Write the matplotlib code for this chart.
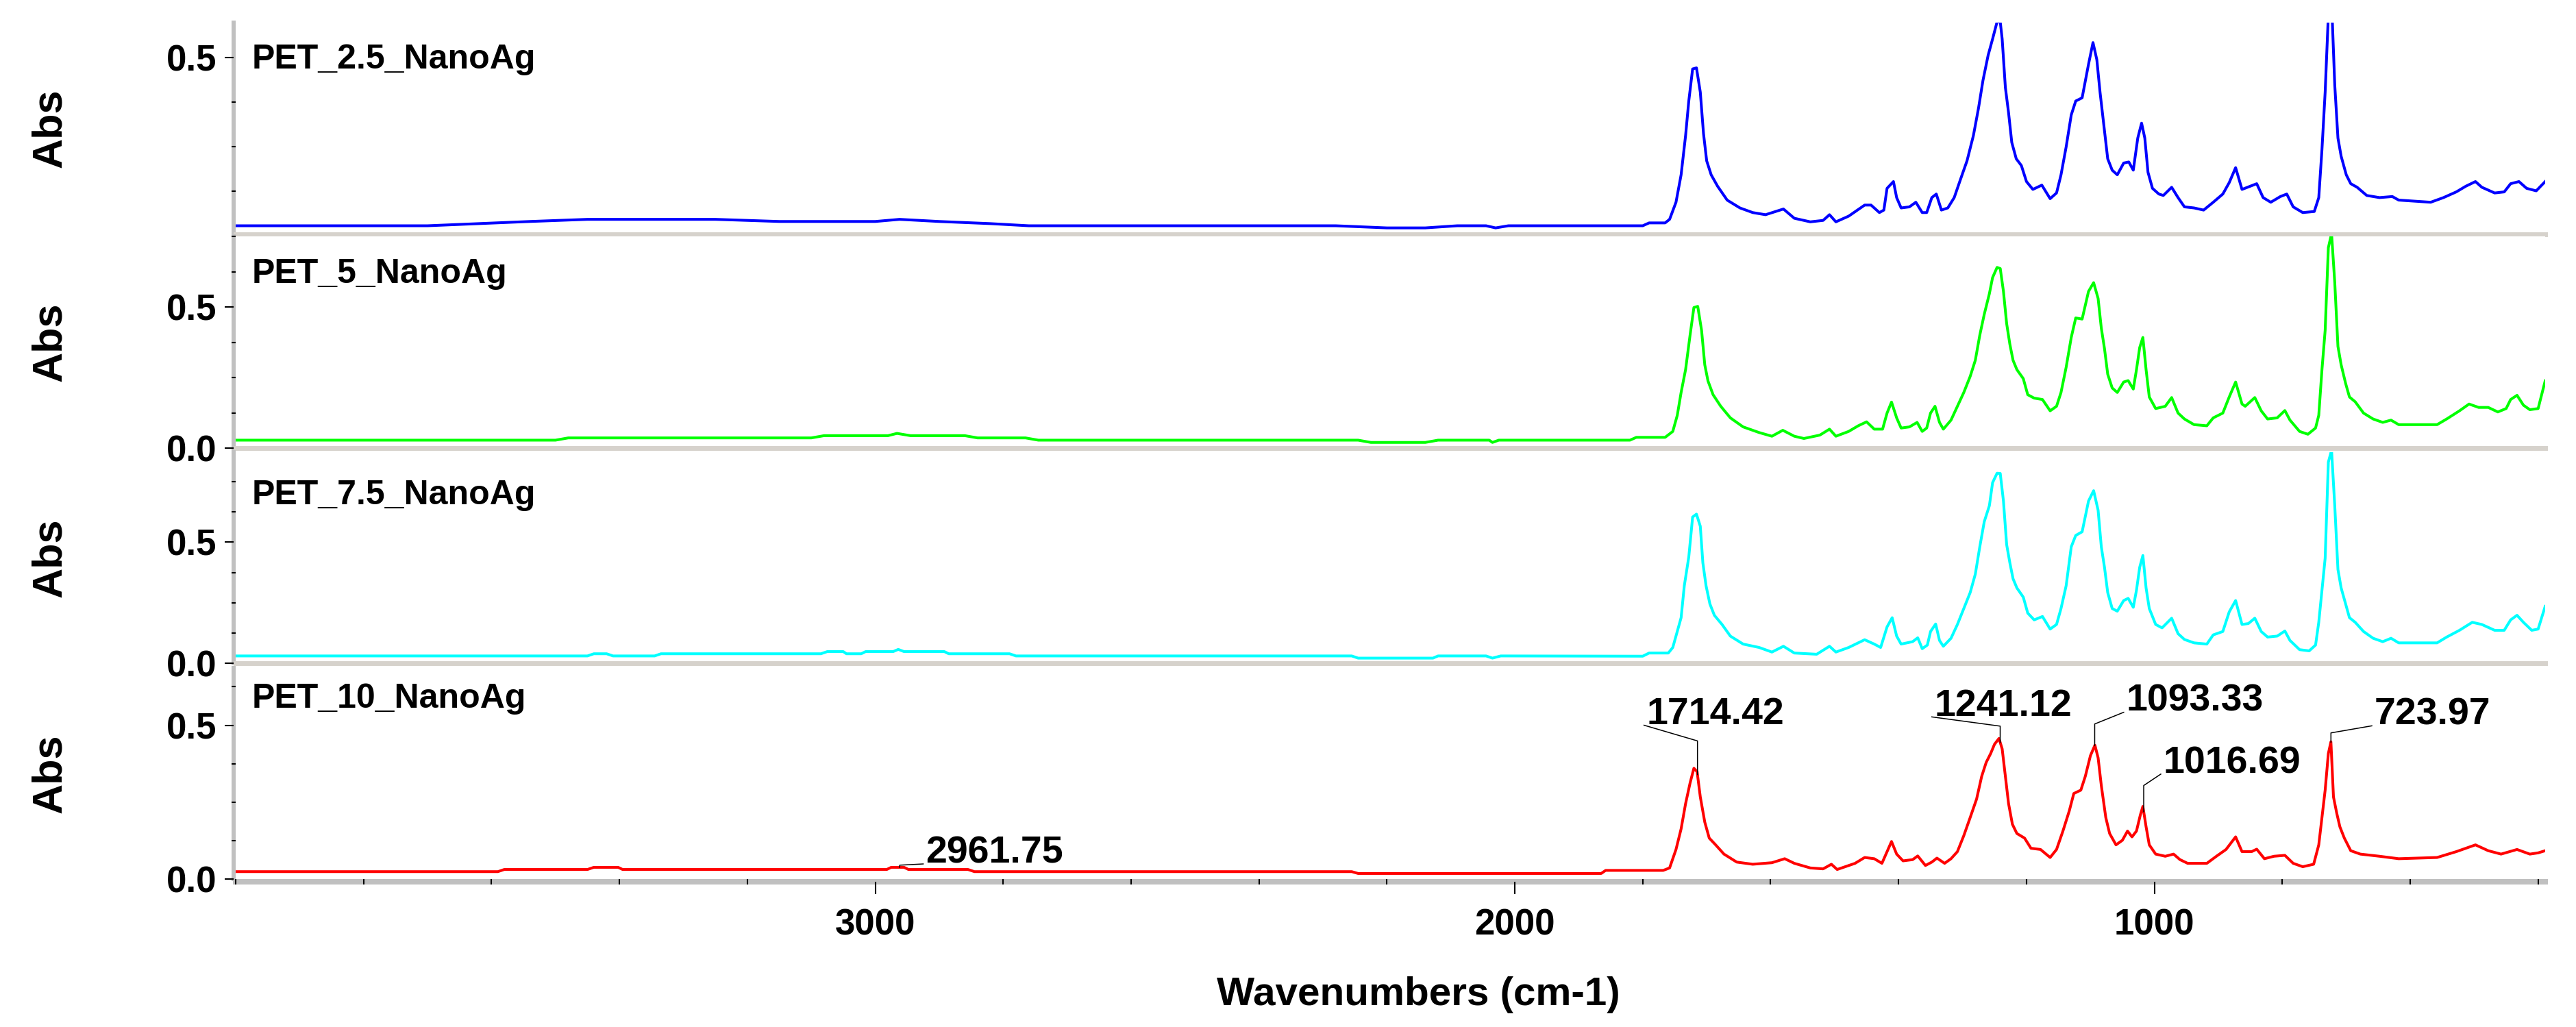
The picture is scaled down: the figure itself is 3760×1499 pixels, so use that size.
import numpy as np
import matplotlib.pyplot as plt
from matplotlib.ticker import MultipleLocator, FixedLocator, FormatStrFormatter

plt.rcParams['font.family'] = ['Liberation Sans', 'DejaVu Sans']
plt.rcParams['font.weight'] = 'bold'

# FTIR spectra: (wavenumber cm-1, absorbance)
pet_25 = [(4000, 0.028), (3700, 0.028), (3620, 0.034), (3540, 0.040), (3450, 0.046), (3250, 0.046),
          (3150, 0.040), (3000, 0.040), (2962, 0.046), (2900, 0.040), (2820, 0.034), (2760, 0.028),
          (2280, 0.028), (2200, 0.022), (2140, 0.022), (2090, 0.028), (2045, 0.028), (2030, 0.022),
          (2010, 0.028), (1800, 0.028), (1790, 0.036), (1765, 0.036), (1758, 0.046),
          (1748, 0.094), (1740, 0.171), (1733, 0.281), (1728, 0.378), (1722, 0.468), (1716, 0.471),
          (1710, 0.403), (1705, 0.287), (1700, 0.21), (1693, 0.171), (1683, 0.139), (1668, 0.10),
          (1648, 0.078), (1628, 0.065), (1608, 0.059), (1580, 0.075), (1563, 0.049), (1538, 0.039),
          (1518, 0.043), (1508, 0.059), (1498, 0.039), (1478, 0.055), (1453, 0.086), (1443, 0.086),
          (1430, 0.065), (1423, 0.072), (1418, 0.133), (1408, 0.152), (1403, 0.107), (1396, 0.078),
          (1383, 0.081), (1373, 0.094), (1363, 0.065), (1356, 0.065), (1348, 0.107), (1341, 0.117),
          (1333, 0.072), (1323, 0.078), (1313, 0.107), (1303, 0.159), (1293, 0.21), (1283, 0.281),
          (1275, 0.358), (1268, 0.436), (1260, 0.506), (1253, 0.552), (1246, 0.60), (1241, 0.60),
          (1238, 0.552), (1233, 0.416), (1228, 0.345), (1223, 0.262), (1216, 0.216), (1208, 0.197),
          (1200, 0.152), (1190, 0.13), (1176, 0.142), (1163, 0.104), (1153, 0.12), (1146, 0.171),
          (1138, 0.249), (1130, 0.339), (1123, 0.378), (1113, 0.387), (1103, 0.481), (1096, 0.542),
          (1090, 0.494), (1085, 0.403), (1078, 0.294), (1073, 0.216), (1066, 0.184), (1058, 0.171),
          (1048, 0.204), (1040, 0.207), (1033, 0.184), (1026, 0.274), (1020, 0.316), (1015, 0.274),
          (1010, 0.178), (1003, 0.133), (993, 0.117), (986, 0.113), (973, 0.136), (963, 0.107),
          (953, 0.081), (938, 0.078), (923, 0.072), (908, 0.094), (893, 0.117), (883, 0.149),
          (873, 0.191), (863, 0.13), (850, 0.139), (840, 0.146), (830, 0.107), (818, 0.094),
          (803, 0.11), (793, 0.117), (783, 0.081), (768, 0.065), (750, 0.068), (743, 0.107),
          (738, 0.242), (733, 0.403), (728, 0.62), (723, 0.66), (718, 0.423), (713, 0.274),
          (708, 0.223), (700, 0.171), (693, 0.146), (683, 0.136), (668, 0.113), (648, 0.107),
          (628, 0.11), (618, 0.10), (593, 0.097), (568, 0.094), (548, 0.107), (528, 0.123),
          (513, 0.139), (498, 0.152), (488, 0.136), (468, 0.12), (453, 0.123), (443, 0.146),
          (430, 0.152), (418, 0.133), (403, 0.126), (389, 0.152)]

pet_5 = [(4000, 0.028), (3500, 0.028), (3480, 0.036), (3100, 0.036), (3080, 0.044), (2980, 0.044),
         (2966, 0.052), (2945, 0.044), (2860, 0.044), (2840, 0.036), (2765, 0.036), (2745, 0.028),
         (2245, 0.028), (2225, 0.020), (2140, 0.020), (2120, 0.028), (2040, 0.028), (2035, 0.020),
         (2025, 0.028), (1820, 0.028), (1810, 0.038), (1765, 0.038), (1753, 0.059),
         (1746, 0.116), (1740, 0.197), (1733, 0.278), (1726, 0.40), (1720, 0.498), (1714, 0.502),
         (1708, 0.417), (1703, 0.295), (1698, 0.238), (1690, 0.189), (1678, 0.148), (1663, 0.107),
         (1643, 0.075), (1618, 0.055), (1598, 0.042), (1581, 0.063), (1563, 0.042), (1548, 0.034),
         (1523, 0.046), (1508, 0.067), (1498, 0.042), (1478, 0.059), (1463, 0.079), (1450, 0.093),
         (1438, 0.067), (1425, 0.067), (1418, 0.124), (1411, 0.163), (1403, 0.107), (1396, 0.071),
         (1383, 0.075), (1371, 0.091), (1363, 0.059), (1356, 0.071), (1350, 0.124), (1343, 0.148),
         (1336, 0.091), (1330, 0.067), (1318, 0.099), (1308, 0.148), (1298, 0.197), (1288, 0.254),
         (1280, 0.311), (1273, 0.40), (1266, 0.474), (1258, 0.547), (1253, 0.604), (1246, 0.64),
         (1241, 0.636), (1236, 0.555), (1231, 0.441), (1226, 0.368), (1221, 0.311), (1215, 0.278),
         (1205, 0.246), (1198, 0.189), (1188, 0.177), (1175, 0.172), (1163, 0.132), (1153, 0.148),
         (1146, 0.197), (1138, 0.286), (1130, 0.392), (1123, 0.461), (1113, 0.457), (1103, 0.555),
         (1095, 0.586), (1088, 0.53), (1083, 0.425), (1078, 0.352), (1073, 0.262), (1066, 0.213),
         (1058, 0.197), (1048, 0.234), (1041, 0.239), (1033, 0.209), (1028, 0.278), (1023, 0.356),
         (1018, 0.392), (1013, 0.278), (1008, 0.181), (998, 0.14), (983, 0.148), (973, 0.179),
         (963, 0.124), (953, 0.103), (938, 0.083), (918, 0.079), (908, 0.107), (893, 0.124),
         (883, 0.181), (873, 0.234), (863, 0.156), (858, 0.148), (843, 0.179), (833, 0.132),
         (823, 0.103), (808, 0.107), (796, 0.133), (788, 0.099), (773, 0.059), (760, 0.049),
         (748, 0.071), (743, 0.116), (738, 0.278), (733, 0.417), (728, 0.71), (723, 0.76),
         (718, 0.587), (713, 0.36), (708, 0.295), (701, 0.229), (695, 0.181), (686, 0.164),
         (673, 0.124), (658, 0.103), (643, 0.091), (630, 0.099), (618, 0.083), (558, 0.083),
         (543, 0.103), (523, 0.132), (508, 0.156), (493, 0.144), (478, 0.144), (463, 0.128),
         (450, 0.14), (443, 0.172), (433, 0.187), (423, 0.152), (413, 0.136), (400, 0.14), (389, 0.238)]

pet_75 = [(4000, 0.030), (3450, 0.030), (3440, 0.039), (3420, 0.039), (3410, 0.030), (3345, 0.030),
          (3335, 0.039), (3085, 0.039), (3075, 0.048), (3050, 0.048), (3045, 0.039), (3022, 0.039),
          (3015, 0.048), (2972, 0.048), (2964, 0.057), (2955, 0.048), (2892, 0.048), (2885, 0.039),
          (2790, 0.039), (2780, 0.030), (2255, 0.030), (2245, 0.021), (2128, 0.021), (2120, 0.030),
          (2045, 0.030), (2035, 0.021), (2022, 0.030), (1800, 0.029), (1790, 0.042), (1760, 0.042),
          (1753, 0.065), (1746, 0.131), (1740, 0.188), (1735, 0.32), (1728, 0.439), (1722, 0.604),
          (1716, 0.616), (1710, 0.566), (1706, 0.415), (1701, 0.32), (1695, 0.245), (1688, 0.198),
          (1676, 0.16), (1663, 0.112), (1643, 0.079), (1618, 0.065), (1598, 0.046), (1580, 0.07),
          (1563, 0.042), (1528, 0.037), (1508, 0.07), (1498, 0.046), (1478, 0.065), (1453, 0.097),
          (1438, 0.079), (1428, 0.065), (1418, 0.15), (1410, 0.188), (1403, 0.112), (1396, 0.079),
          (1378, 0.089), (1370, 0.105), (1363, 0.06), (1355, 0.075), (1350, 0.131), (1342, 0.162),
          (1336, 0.094), (1330, 0.07), (1318, 0.103), (1308, 0.16), (1298, 0.226), (1288, 0.292),
          (1280, 0.368), (1273, 0.481), (1266, 0.585), (1258, 0.651), (1253, 0.746), (1246, 0.785),
          (1241, 0.784), (1236, 0.67), (1231, 0.49), (1226, 0.415), (1221, 0.349), (1215, 0.311),
          (1205, 0.273), (1198, 0.207), (1188, 0.179), (1175, 0.193), (1163, 0.141), (1153, 0.16),
          (1146, 0.226), (1138, 0.32), (1130, 0.481), (1123, 0.528), (1113, 0.543), (1103, 0.67),
          (1095, 0.713), (1088, 0.632), (1083, 0.481), (1078, 0.396), (1073, 0.292), (1066, 0.226),
          (1058, 0.215), (1048, 0.259), (1041, 0.268), (1033, 0.231), (1028, 0.302), (1023, 0.396),
          (1018, 0.445), (1013, 0.311), (1008, 0.226), (998, 0.16), (988, 0.146), (973, 0.186),
          (963, 0.122), (953, 0.098), (938, 0.084), (918, 0.079), (908, 0.117), (893, 0.131),
          (883, 0.212), (873, 0.259), (863, 0.16), (853, 0.164), (843, 0.186), (833, 0.131),
          (823, 0.108), (808, 0.112), (796, 0.133), (788, 0.094), (773, 0.056), (758, 0.051),
          (748, 0.075), (743, 0.169), (738, 0.302), (733, 0.434), (728, 0.831), (723, 0.88),
          (718, 0.651), (713, 0.387), (708, 0.311), (701, 0.245), (695, 0.188), (686, 0.169),
          (673, 0.131), (658, 0.103), (643, 0.089), (630, 0.103), (618, 0.084), (558, 0.084),
          (543, 0.108), (523, 0.136), (503, 0.169), (488, 0.16), (468, 0.136), (453, 0.136),
          (443, 0.179), (433, 0.198), (423, 0.169), (410, 0.136), (400, 0.141), (389, 0.235)]

pet_10 = [(4000, 0.024), (3590, 0.024), (3580, 0.031), (3450, 0.031), (3440, 0.038), (3402, 0.038),
          (3395, 0.031), (2982, 0.031), (2975, 0.038), (2955, 0.038), (2948, 0.031), (2855, 0.031),
          (2845, 0.024), (2255, 0.024), (2245, 0.018), (1865, 0.018), (1858, 0.028), (1768, 0.028),
          (1758, 0.036), (1748, 0.096), (1740, 0.163), (1733, 0.245), (1726, 0.312), (1720, 0.36),
          (1715, 0.349), (1710, 0.267), (1703, 0.185), (1696, 0.133), (1686, 0.111), (1673, 0.081),
          (1653, 0.055), (1628, 0.048), (1598, 0.053), (1578, 0.066), (1563, 0.051), (1538, 0.036),
          (1518, 0.033), (1505, 0.048), (1496, 0.031), (1468, 0.051), (1453, 0.07), (1438, 0.066),
          (1426, 0.051), (1418, 0.089), (1411, 0.122), (1403, 0.081), (1393, 0.059), (1378, 0.063),
          (1370, 0.075), (1358, 0.044), (1348, 0.055), (1340, 0.068), (1328, 0.051), (1318, 0.066),
          (1308, 0.089), (1298, 0.141), (1288, 0.2), (1278, 0.26), (1270, 0.334), (1263, 0.379),
          (1256, 0.408), (1250, 0.438), (1243, 0.457), (1238, 0.423), (1233, 0.334), (1228, 0.245),
          (1222, 0.178), (1215, 0.148), (1203, 0.133), (1193, 0.1), (1178, 0.096), (1163, 0.07),
          (1153, 0.096), (1143, 0.156), (1133, 0.222), (1126, 0.278), (1115, 0.289), (1108, 0.334),
          (1100, 0.401), (1093, 0.435), (1088, 0.394), (1083, 0.304), (1076, 0.2), (1070, 0.148),
          (1060, 0.111), (1050, 0.126), (1042, 0.156), (1035, 0.137), (1028, 0.156), (1022, 0.208),
          (1018, 0.236), (1013, 0.17), (1008, 0.111), (998, 0.081), (983, 0.074), (970, 0.081),
          (960, 0.063), (948, 0.051), (918, 0.051), (903, 0.074), (888, 0.096), (873, 0.137),
          (863, 0.089), (848, 0.089), (840, 0.097), (828, 0.066), (813, 0.074), (796, 0.077),
          (783, 0.051), (768, 0.04), (751, 0.048), (743, 0.111), (738, 0.2), (733, 0.289),
          (728, 0.408), (724, 0.446), (720, 0.267), (715, 0.215), (710, 0.17), (703, 0.133),
          (693, 0.092), (678, 0.081), (648, 0.074), (618, 0.066), (558, 0.07), (528, 0.089),
          (498, 0.111), (478, 0.092), (458, 0.081), (433, 0.096), (413, 0.081), (400, 0.085), (389, 0.092)]

sample_names = ['PET_2.5_NanoAg', 'PET_5_NanoAg', 'PET_7.5_NanoAg', 'PET_10_NanoAg']
line_colors = ['#0000ff', '#00ff00', '#00ffff', '#ff0000']
y_limits = [(0.004, 0.598), (0.0, 0.75), (0.0, 0.872), (0.0, 0.686)]

# peak picks on the bottom spectrum
peak_labels = ['1714.42', '1241.12', '1093.33', '1016.69', '723.97', '2961.75']
peak_knee = [0.449, 0.497, 0.504, 0.304, 0.475, 0.045]
peak_text_at = [(1798, 0.50), (1348, 0.527), (1048, 0.542), (990, 0.341), (660, 0.498), (2925, 0.049)]

x_major = [3000, 2000, 1000]

W, H = 3760, 1499
panel_px = [(33, 342), (345, 654), (660, 968), (975, 1283)]   # top, bottom in pixels
name_baseline_px = [100, 413, 736, 1033]
ax_left, ax_right = 344, 3715

fig = plt.figure(figsize=(W / 100, H / 100), dpi=100)

spectra = [pet_25, pet_5, pet_75, pet_10]
axes = []
for i, data in enumerate(spectra):
    top, bot = panel_px[i]
    ax = fig.add_axes([ax_left / W, 1 - bot / H, (ax_right - ax_left) / W, (bot - top) / H])
    wn, ab = np.array(data).T
    ax.plot(wn, ab, color=line_colors[i], lw=2.9, zorder=3)
    ax.set_xlim(4000, 389)
    ax.set_ylim(*y_limits[i])

    ax.spines['top'].set_visible(False)
    ax.spines['right'].set_visible(False)
    ax.spines['left'].set_color('#c0c0c0')
    ax.spines['left'].set_linewidth(4.3)
    ax.spines['left'].set_position(('outward', 2.2))
    ax.spines['left'].set_zorder(1)

    ax.yaxis.set_major_locator(MultipleLocator(0.5))
    ax.yaxis.set_minor_locator(MultipleLocator(0.125))
    ax.yaxis.set_major_formatter(FormatStrFormatter('%.1f'))
    ax.tick_params(axis='y', which='major', direction='out', length=9.4, width=1.5,
                   labelsize=38, pad=8.0, color='black')
    ax.tick_params(axis='y', which='minor', direction='inout', length=4.3, width=1.5, color='black')

    if i < 3:
        ax.spines['bottom'].set_color('#d6d2cc')
        ax.spines['bottom'].set_linewidth(5)
        ax.spines['bottom'].set_zorder(1)
        ax.tick_params(axis='x', which='both', bottom=False, labelbottom=False)
    else:
        ax.spines['bottom'].set_color('#c0c0c0')
        ax.spines['bottom'].set_linewidth(5.8)
        ax.spines['bottom'].set_position(('outward', 2.9))
        ax.spines['bottom'].set_zorder(1)
        ax.xaxis.set_major_locator(FixedLocator(x_major))
        ax.xaxis.set_minor_locator(MultipleLocator(200))
        ax.tick_params(axis='x', which='major', direction='out', length=13, width=1.5,
                       labelsize=38, pad=15)
        ax.tick_params(axis='x', which='minor', direction='inout', length=5.8, width=1.5)

    fig.text(368 / W, 1 - name_baseline_px[i] / H, sample_names[i], fontsize=36,
             ha='left', va='baseline')
    fig.text(73 / W, 1 - (top + bot) / 2 / H, 'Abs', fontsize=44, rotation=90,
             ha='center', va='center')
    axes.append(ax)

# peak labels with leader lines on PET_10
ax = axes[3]
wn, ab = np.array(pet_10).T
order = np.argsort(wn)
for lab, knee, (tx, ty) in zip(peak_labels, peak_knee, peak_text_at):
    pw = float(lab)
    py = np.interp(pw, wn[order], ab[order])
    ax.plot([pw, pw, tx], [py, knee, ty], color='black', lw=1.1, zorder=4, clip_on=False)
    ax.text(tx - 4, ty + 0.004, lab, fontsize=40, ha='left', va='baseline', zorder=5)

fig.text(2070 / W, 1 - 1467 / H, 'Wavenumbers (cm-1)', fontsize=42, ha='center', va='baseline')

fig.savefig('out.png', dpi=100)
